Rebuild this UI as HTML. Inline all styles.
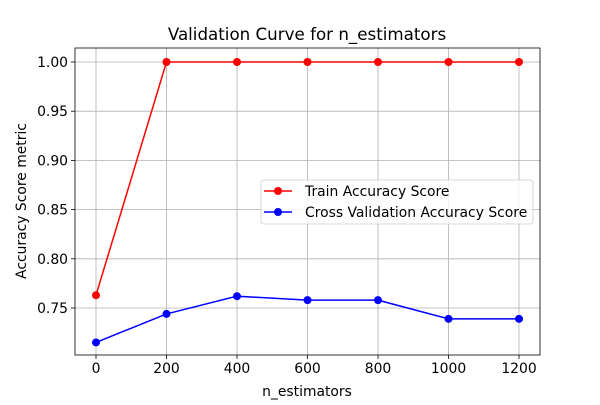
<!DOCTYPE html>
<html><head><meta charset="utf-8"><style>
body{margin:0;background:#fff;}
svg text{font-family:"DejaVu Sans","Liberation Sans",sans-serif;fill:#000;}
</style></head><body>
<svg id="chart" width="600" height="400" viewBox="0 0 600 400"></svg>
<script>
const xValues=[0,200,400,600,800,1000,1200];
const trainScores=[0.763,1.0,1.0,1.0,1.0,1.0,1.0];
const cvScores=[0.715,0.744,0.762,0.758,0.758,0.739,0.739];
const xTicks=[0,200,400,600,800,1000,1200];
const yTicks=[0.75,0.80,0.85,0.90,0.95,1.00];
const L=75,R=540,T=48,B=355;
function sx(v){return 96+v*(70.5/200);}
function sy(v){return 308-(v-0.75)*984;}
const svg=document.getElementById('chart');
const NS='http://www.w3.org/2000/svg';
function el(t,a,p){const e=document.createElementNS(NS,t);for(const k in a)e.setAttribute(k,a[k]);(p||svg).appendChild(e);return e;}
xTicks.forEach(v=>{
 const g=el('line',{x1:sx(v),x2:sx(v),y1:T,y2:B,stroke:'#b0b0b0','stroke-width':0.8});
 
 
 el('line',{x1:sx(v),x2:sx(v),y1:B,y2:B+4,stroke:'#000','stroke-width':0.8});
 const t=el('text',{x:sx(v),y:B+18,'text-anchor':'middle','font-size':13.9});
 t.textContent=v;
 
 
});
yTicks.forEach(v=>{
 const g=el('line',{x1:L,x2:R,y1:sy(v),y2:sy(v),stroke:'#b0b0b0','stroke-width':0.8});
 
 
 el('line',{x1:L-4,x2:L,y1:sy(v),y2:sy(v),stroke:'#000','stroke-width':0.8});
 const t=el('text',{x:L-7,y:sy(v)+5,'text-anchor':'end','font-size':13.9});
 t.textContent=v.toFixed(2);
 
 
});
const frame=el('rect',{x:L,y:T,width:R-L,height:B-T,fill:'none',stroke:'#000','stroke-width':0.8});


function series(vals,color,name){
 const p=el('polyline',{points:vals.map((v,i)=>sx(xValues[i])+','+sy(v)).join(' '),fill:'none',stroke:color,'stroke-width':1.5});
 
 
 vals.forEach((v,i)=>{
  const c=el('circle',{cx:sx(xValues[i]),cy:sy(v),r:4,fill:color});
  
  
 });
}
series(trainScores,'#ff0000','train-score');
series(cvScores,'#0000ff','cv-score');
const title=el('text',{x:307,y:40,'text-anchor':'middle','font-size':16.7});
title.textContent='Validation Curve for n_estimators';


const xl=el('text',{x:307,y:396,'text-anchor':'middle','font-size':13.9});
xl.textContent='n_estimators';


const yl=el('text',{x:0,y:0,'text-anchor':'middle','font-size':13.9,transform:'translate(26,201) rotate(-90)'});
yl.textContent='Accuracy Score metric';


const lg=el('g',{});


el('rect',{x:261,y:180,width:272,height:44,rx:3,fill:'#fff','fill-opacity':0.8,stroke:'#cccccc','stroke-width':0.8},lg);
[['Train Accuracy Score','#ff0000',191],['Cross Validation Accuracy Score','#0000ff',212]].forEach(([n,c,y])=>{
 const g=el('g',{},lg);
 
 
 el('line',{x1:264,x2:292,y1:y,y2:y,stroke:c,'stroke-width':1.5},g);
 el('circle',{cx:278,cy:y,r:4,fill:c},g);
 const t=el('text',{x:305,y:y+5,'font-size':13.9},g);
 t.textContent=n;
});
</script>
</body></html>
